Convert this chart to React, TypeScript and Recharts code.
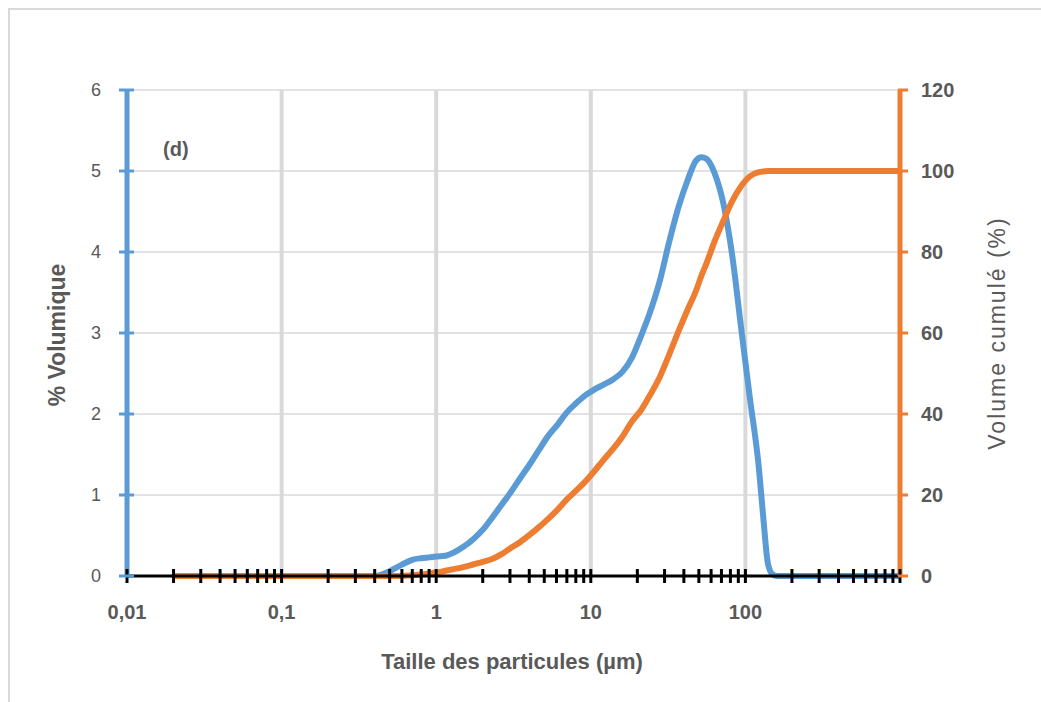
import React from 'react';
import { ComposedChart, Line, XAxis, YAxis, CartesianGrid, ReferenceLine } from 'recharts';

const sizes = [0.02, 0.1, 0.3, 0.4, 0.5, 0.6, 0.7, 0.8, 0.9, 1.0, 1.15, 1.3, 1.5, 1.75, 2.0, 2.3, 2.65, 3.0, 3.5, 4.0, 4.6, 5.3, 6.1, 7.0, 8.0, 9.2, 10.5, 12, 14, 16, 18.5, 21, 24, 28, 32, 37, 42, 48, 52, 56, 63, 72, 82, 94, 107, 122, 130, 140, 150, 160, 200, 1000];
const volumePct = [0, 0, 0, 0, 0.06, 0.14, 0.2, 0.22, 0.23, 0.24, 0.25, 0.29, 0.36, 0.46, 0.57, 0.72, 0.88, 1.02, 1.21, 1.37, 1.55, 1.73, 1.87, 2.02, 2.13, 2.23, 2.3, 2.36, 2.43, 2.52, 2.7, 2.95, 3.24, 3.65, 4.11, 4.56, 4.87, 5.13, 5.17, 5.15, 4.98, 4.6, 3.97, 3.05, 2.19, 1.35, 0.76, 0.15, 0.02, 0, 0, 0];
const cumulPct = [0, 0, 0, 0, 0, 0, 0.2, 0.35, 0.6, 0.85, 1.3, 1.7, 2.2, 2.9, 3.5, 4.2, 5.4, 6.8, 8.4, 10.1, 12.0, 14.1, 16.4, 18.9, 21.0, 23.3, 25.8, 28.5, 31.5, 34.4, 38.2, 40.8, 44.5, 49.2, 54.5, 60.5, 65.5, 70.5, 74.2, 77.2, 82.5, 87.7, 92.5, 96.3, 98.7, 99.7, 99.9, 100, 100, 100, 100, 100];

const majorTicks = [0.01, 0.1, 1, 10, 100];
const gridDecades = [0.1, 1, 10, 100];
const minorMultipliers = [2, 3, 4, 5, 6, 7, 8, 9];
const leftTicks = [0, 1, 2, 3, 4, 5, 6];
const rightTicks = [0, 20, 40, 60, 80, 100, 120];

const xTicks: number[] = [];
majorTicks.forEach((d) => {
  xTicks.push(d);
  minorMultipliers.forEach((k) => xTicks.push(Number((d * k).toPrecision(3))));
});
xTicks.push(1000);

const data = sizes.map((s, i) => ({ size: s, vol: volumePct[i], cum: cumulPct[i] }));

const FONT = '"Liberation Sans", Arial, sans-serif';
const TXT = '#595959';
const BLUE = '#5b9bd5';
const ORANGE = '#ed7d31';

const XTick = (props: any) => {
  const { x, y, payload } = props;
  const v = payload.value;
  const isMajor = majorTicks.some((m) => Math.abs(m - v) < 1e-9);
  return (
    <g>
      <line x1={x} x2={x} y1={y - 7} y2={y + 7} stroke="#000" strokeWidth={3} />
      {isMajor && (
        <text x={x} y={y + 43} textAnchor="middle" fontSize={20} fontWeight="bold" fill={TXT} fontFamily={FONT}>
          {String(v).replace('.', ',')}
        </text>
      )}
    </g>
  );
};

const LeftTick = (props: any) => {
  const { x, y, payload } = props;
  return (
    <g>
      <line x1={x - 8} x2={x + 7} y1={y} y2={y} stroke={BLUE} strokeWidth={3} />
      <text x={x - 26} y={y} dy="0.35em" textAnchor="end" fontSize={18} fill={TXT} fontFamily={FONT}>
        {payload.value}
      </text>
    </g>
  );
};

const RightTick = (props: any) => {
  const { x, y, payload } = props;
  return (
    <g>
      <line x1={x - 2} x2={x + 8} y1={y} y2={y} stroke={ORANGE} strokeWidth={3} />
      <text x={x + 21} y={y} dy="0.35em" textAnchor="start" fontSize={20} fontWeight="bold" fill={TXT} fontFamily={FONT}>
        {payload.value}
      </text>
    </g>
  );
};

export default function App() {
  return (
    <div style={{ position: 'absolute', left: 0, top: 0, width: 1041, height: 702, background: '#fff', overflow: 'hidden', fontFamily: FONT }}>
      <div style={{ position: 'absolute', left: 8, top: 8, width: 1100, height: 800, borderTop: '2px solid #d9d9d9', borderLeft: '2px solid #d9d9d9' }} />
      <ComposedChart
        width={1041}
        height={702}
        data={data}
        margin={{ top: 90, left: 126, right: 140, bottom: 125 }}
        style={{ position: 'absolute', left: 0, top: 0 }}
      >
        <CartesianGrid vertical={false} yAxisId="left" stroke="#d9d9d9" strokeWidth={1.5} />
        {gridDecades.map((d) => (
          <ReferenceLine key={d} x={d} yAxisId="left" stroke="#d9d9d9" strokeWidth={4} />
        ))}
        <XAxis
          dataKey="size"
          type="number"
          scale="log"
          domain={[0.01, 1000]}
          allowDataOverflow
          ticks={xTicks}
          interval={0}
          height={1}
          tickSize={0}
          tickMargin={0}
          tickLine={false}
          axisLine={{ stroke: '#000', strokeWidth: 3 }}
          tick={(p: any) => <XTick {...p} />}
        />
        <YAxis
          yAxisId="left"
          domain={[0, 6]}
          ticks={leftTicks}
          interval={0}
          width={1}
          tickSize={0}
          tickMargin={0}
          tickLine={false}
          axisLine={{ stroke: BLUE, strokeWidth: 5 }}
          tick={(p: any) => <LeftTick {...p} />}
        />
        <YAxis
          yAxisId="right"
          orientation="right"
          domain={[0, 120]}
          ticks={rightTicks}
          interval={0}
          width={1}
          tickSize={0}
          tickMargin={0}
          tickLine={false}
          axisLine={{ stroke: ORANGE, strokeWidth: 5 }}
          tick={(p: any) => <RightTick {...p} />}
        />
        <Line yAxisId="left" dataKey="vol" type="monotone" stroke={BLUE} strokeWidth={6} dot={false} isAnimationActive={false} strokeLinejoin="round" />
        <Line yAxisId="right" dataKey="cum" type="monotone" stroke={ORANGE} strokeWidth={6} dot={false} isAnimationActive={false} strokeLinejoin="round" />
      </ComposedChart>
      <div style={{ position: 'absolute', left: 163, top: 138, fontSize: 20, fontWeight: 'bold', color: TXT }}>(d)</div>
      <div style={{ position: 'absolute', left: 57, top: 335, transform: 'translate(-50%, -50%) rotate(-90deg)', whiteSpace: 'nowrap', fontSize: 23, fontWeight: 'bold', color: TXT }}>% Volumique</div>
      <div style={{ position: 'absolute', left: 997, top: 333, transform: 'translate(-50%, -50%) rotate(-90deg)', whiteSpace: 'nowrap', fontSize: 23, letterSpacing: 2, color: TXT }}>Volume cumulé (%)</div>
      <div style={{ position: 'absolute', left: 512, top: 662, transform: 'translate(-50%, -50%)', whiteSpace: 'nowrap', fontSize: 22, fontWeight: 'bold', color: TXT }}>Taille des particules (µm)</div>
    </div>
  );
}
